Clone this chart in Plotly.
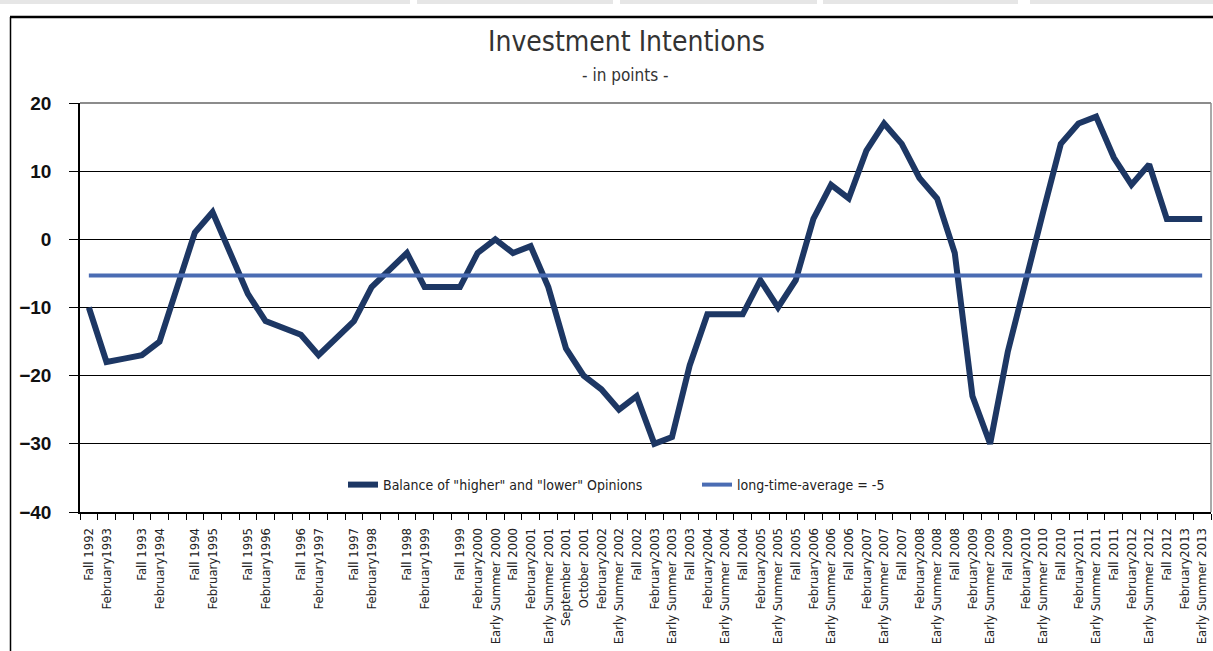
import plotly.graph_objects as go

# ---- data ----
categories = [
    "Fall 1992", "February1993", "",
    "Fall 1993", "February1994", "",
    "Fall 1994", "February1995", "",
    "Fall 1995", "February1996", "",
    "Fall 1996", "February1997", "",
    "Fall 1997", "February1998", "",
    "Fall 1998", "February1999", "",
    "Fall 1999", "February2000", "Early Summer 2000", "Fall 2000",
    "February2001", "Early Summer 2001", "September 2001", "October 2001",
    "February2002", "Early Summer 2002", "Fall 2002",
    "February2003", "Early Summer 2003", "Fall 2003",
    "February2004", "Early Summer 2004", "Fall 2004",
    "February2005", "Early Summer 2005", "Fall 2005",
    "February2006", "Early Summer 2006", "Fall 2006",
    "February2007", "Early Summer 2007", "Fall 2007",
    "February2008", "Early Summer 2008", "Fall 2008",
    "February2009", "Early Summer 2009", "Fall 2009",
    "February2010", "Early Summer 2010", "Fall 2010",
    "February2011", "Early Summer 2011", "Fall 2011",
    "February2012", "Early Summer 2012", "Fall 2012",
    "February2013", "Early Summer 2013",
]

balance = [
    -10, -18, -17.5,
    -17, -15, -7,
    1, 4, -2,
    -8, -12, -13,
    -14, -17, -14.5,
    -12, -7, -4.5,
    -2, -7, -7,
    -7, -2, 0, -2,
    -1, -7, -16, -20,
    -22, -25, -23,
    -30, -29, -18.5,
    -11, -11, -11,
    -6, -10, -6,
    3, 8, 6,
    13, 17, 14,
    9, 6, -2,
    -23, -30, -16.5,
    -6, 4, 14,
    17, 18, 12,
    8, 11, 3,
    3, 3,
]

long_time_average = -5.3
series_names = ['Balance of "higher" and "lower" Opinions', "long-time-average = -5"]
y_ticks = [20, 10, 0, -10, -20, -30, -40]
title_text = "Investment Intentions"
subtitle_text = "- in points -"

NARROW = "Liberation Sans Narrow, DejaVu Sans Condensed, Arial Narrow, Liberation Sans, sans-serif"

idx = list(range(len(categories)))
avg = [long_time_average] * len(categories)

fig = go.Figure()
fig.add_trace(go.Scatter(
    x=idx, y=balance, mode="lines", name=series_names[0],
    line=dict(color="#1d3764", width=6),
))
fig.add_trace(go.Scatter(
    x=idx, y=avg, mode="lines", name=series_names[1],
    line=dict(color="#4a6cb3", width=4),
))

L, R, T, B = 80, 2, 103, 139
W, H = 1213, 651
pw = W - L - R
ph = H - T - B

def px_x(p):
    return (p - L) / pw

def px_y(p):
    return (H - B - p) / ph

shapes = []
# outer frame (top and left lines)
shapes.append(dict(type="line", xref="paper", yref="paper",
                   x0=px_x(10), x1=px_x(1213), y0=px_y(17), y1=px_y(17),
                   line=dict(color="black", width=2.5)))
shapes.append(dict(type="line", xref="paper", yref="paper",
                   x0=px_x(10.5), x1=px_x(10.5), y0=px_y(17), y1=px_y(651),
                   line=dict(color="black", width=1.5)))
# grey tabs strip at the very top
for a, b in [(0, 410), (417, 613), (620, 817), (823, 1018), (1030, 1213)]:
    shapes.append(dict(type="rect", xref="paper", yref="paper",
                       x0=px_x(a), x1=px_x(b), y0=px_y(4), y1=px_y(-2),
                       line=dict(width=0), fillcolor="#e6e6e6"))
# plot area border (top & right grey)
shapes.append(dict(type="line", xref="paper", yref="paper",
                   x0=0, x1=1, y0=1, y1=1, line=dict(color="#8c8c8c", width=2)))
shapes.append(dict(type="line", xref="paper", yref="paper",
                   x0=1, x1=1, y0=0, y1=1, line=dict(color="#8c8c8c", width=1.5)))

annotations = [
    dict(text=title_text, xref="paper", yref="paper", x=px_x(626), y=px_y(42),
         xanchor="center", yanchor="middle", showarrow=False,
         font=dict(family=NARROW, size=28, color="#333333", weight=500)),
    dict(text=subtitle_text, xref="paper", yref="paper", x=px_x(625), y=px_y(75),
         xanchor="center", yanchor="middle", showarrow=False,
         font=dict(family=NARROW, size=17, color="#333333")),
]

fig.update_layout(
    width=W, height=H,
    margin=dict(l=L, r=R, t=T, b=B, pad=0),
    paper_bgcolor="white", plot_bgcolor="white",
    showlegend=True,
    legend=dict(
        orientation="h", x=px_x(343), xanchor="left", y=px_y(485), yanchor="middle",
        font=dict(family=NARROW, size=14, color="#222222"),
        bgcolor="rgba(0,0,0,0)",
        entrywidth=309, entrywidthmode="pixels",
        tracegroupgap=0,
    ),
    xaxis=dict(
        range=[-0.5, len(categories) - 0.5],
        tickmode="array", tickvals=idx, ticktext=categories,
        tickangle=-90, ticks="",
        tickfont=dict(family=NARROW, size=13, color="#222222"),
        ticklabelstandoff=9,
        showgrid=False, zeroline=False,
        showline=True, linecolor="black", linewidth=1.5,
        minor=dict(tickmode="linear", tick0=-0.5, dtick=1, ticks="outside",
                   ticklen=6, tickcolor="black", tickwidth=1, showgrid=False),
    ),
    yaxis=dict(
        range=[-40, 20], tickmode="array", tickvals=y_ticks,
        ticks="outside", ticklen=9, tickcolor="black", tickwidth=1,
        tickfont=dict(family="Liberation Sans", size=19, color="#111111", weight="bold"),
        ticklabelstandoff=14,
        showgrid=True, gridcolor="black", gridwidth=1,
        zeroline=False, showline=True, linecolor="black", linewidth=1.5,
    ),
    shapes=shapes,
    annotations=annotations,
)

fig.write_html("out.html")
